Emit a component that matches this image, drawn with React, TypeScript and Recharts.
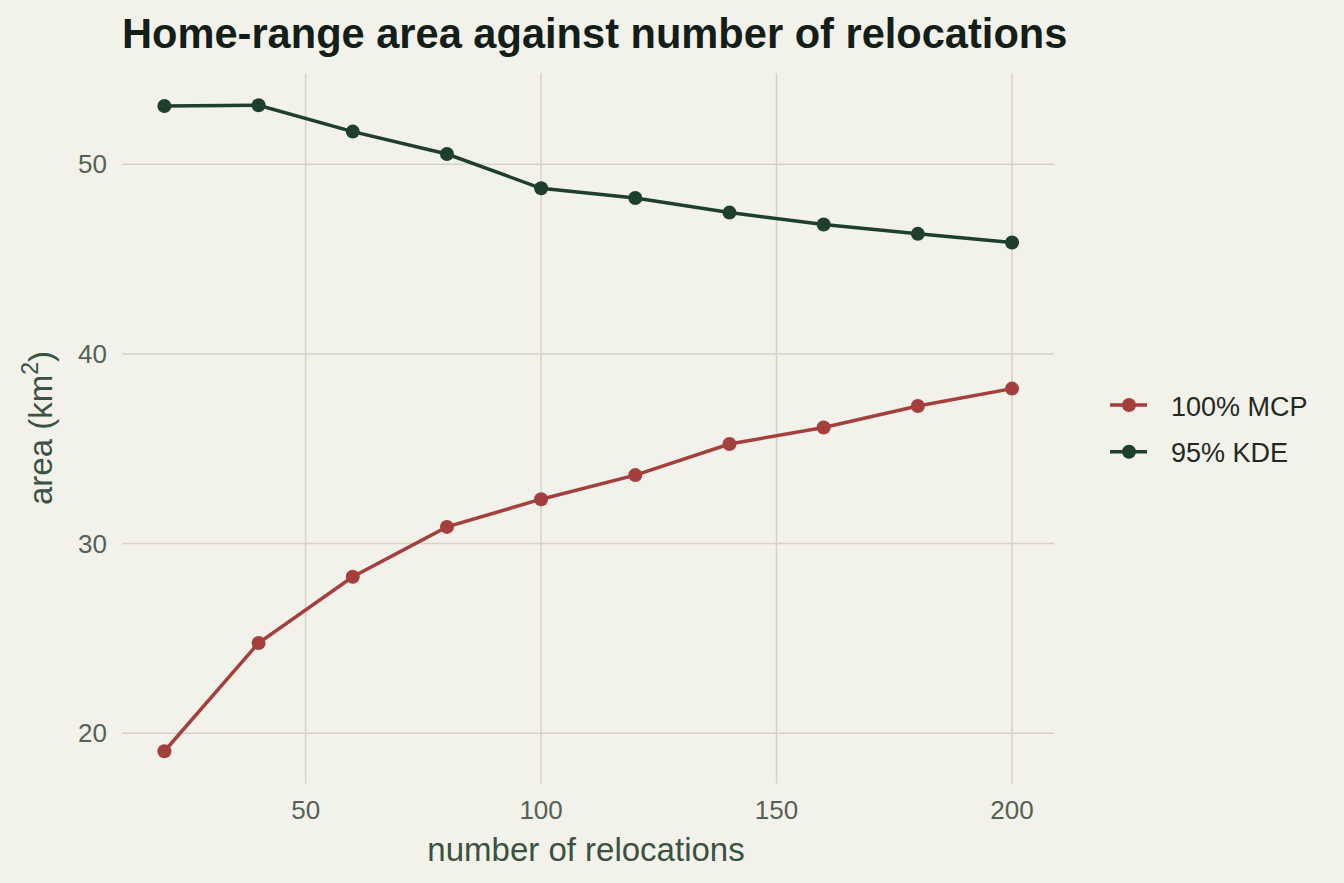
import React from 'react';
import { LineChart, Line, XAxis, YAxis, CartesianGrid, Legend, Label } from 'recharts';

// Sample sizes (number of relocations) and the home-range estimates at each size
const relocations = [20, 40, 60, 80, 100, 120, 140, 160, 180, 200];
const mcp100 = [19.05, 24.76, 28.25, 30.88, 32.34, 33.61, 35.25, 36.12, 37.25, 38.17];
const kde95 = [53.07, 53.11, 51.72, 50.54, 48.73, 48.22, 47.45, 46.82, 46.33, 45.87];

const xTicks = [50, 100, 150, 200];
const yTicks = [20, 30, 40, 50];

const seriesNames = ['100% MCP', '95% KDE'];

const data = relocations.map((n, i) => ({ n, mcp: mcp100[i], kde: kde95[i] }));

const BG = '#F2F1EA';
const GRID = '#D5D4C3';
const RED = '#A43F3E';
const GREEN = '#1D3F2B';
const FONT = '"Liberation Sans", Arial, Helvetica, sans-serif';

const W = 1344;
const H = 883;

const legendItems = [
  { name: seriesNames[0], color: RED },
  { name: seriesNames[1], color: GREEN },
];

function LegendBox() {
  return (
    <svg width={220} height={100} style={{ display: 'block', overflow: 'visible' }}>
      {legendItems.map((it, i) => {
        const cy = 25 + i * 46.7;
        return (
          <g key={it.name}>
            <line x1={10} x2={47} y1={cy} y2={cy} stroke={it.color} strokeWidth={3.5} />
            <circle cx={29} cy={cy} r={7} fill={it.color} />
            <text x={71} y={cy + 10.5} fontSize={27} fontFamily={FONT} fill="#1F2A22">
              {it.name}
            </text>
          </g>
        );
      })}
    </svg>
  );
}

function YTitle() {
  return (
    <text
      x={52}
      y={428}
      transform="rotate(-90, 52, 428)"
      textAnchor="middle"
      fontFamily={FONT}
      fontSize={33}
      fill="#3A5242"
    >
      <tspan>area (km</tspan>
      <tspan fontSize={23} dy={-14}>2</tspan>
      <tspan dy={14}>)</tspan>
    </text>
  );
}

function XTitle() {
  return (
    <text x={586} y={861} textAnchor="middle" fontFamily={FONT} fontSize={33} fill="#3A5242">
      number of relocations
    </text>
  );
}

export default function App() {
  return (
    <div
      style={{
        position: 'absolute',
        left: 0,
        top: 0,
        width: W,
        height: H,
        background: BG,
        fontFamily: FONT,
      }}
    >
      <div
        style={{
          position: 'absolute',
          left: 122,
          top: 13,
          fontSize: 41.6,
          lineHeight: '41px',
          fontWeight: 700,
          color: '#141E18',
          whiteSpace: 'nowrap',
        }}
      >
        Home-range area against number of relocations
      </div>
      <LineChart
        width={W}
        height={H}
        data={data}
        margin={{ top: 73, right: 69.6, bottom: 0, left: 0 }}
        style={{ position: 'absolute', left: 0, top: 0 }}
      >
        <CartesianGrid
          stroke={GRID}
          strokeWidth={1.5}
          horizontalValues={yTicks}
          verticalValues={xTicks}
        />
        <XAxis
          dataKey="n"
          type="number"
          domain={[11, 209]}
          ticks={xTicks}
          allowDataOverflow
          axisLine={false}
          tickLine={false}
          tickSize={0}
          tickMargin={17}
          height={99.5}
          tick={{ fontSize: 26, fill: '#556155', fontFamily: FONT }}
        >
          <Label content={<XTitle />} />
        </XAxis>
        <YAxis
          type="number"
          domain={[17.35, 54.81]}
          ticks={yTicks}
          allowDataOverflow
          axisLine={false}
          tickLine={false}
          tickSize={0}
          tickMargin={15}
          width={122}
          tick={{ fontSize: 26, fill: '#556155', fontFamily: FONT }}
        >
          <Label content={<YTitle />} />
        </YAxis>
        <Legend
          layout="vertical"
          align="right"
          verticalAlign="middle"
          width={220}
          height={100}
          wrapperStyle={{ left: 1100, top: 380, right: 'auto', bottom: 'auto', width: 220, height: 100 }}
          content={<LegendBox />}
        />
        <Line
          name={seriesNames[0]}
          dataKey="mcp"
          stroke={RED}
          strokeWidth={3.5}
          dot={{ r: 7, fill: RED, stroke: RED, strokeWidth: 0 }}
          activeDot={false}
          isAnimationActive={false}
        />
        <Line
          name={seriesNames[1]}
          dataKey="kde"
          stroke={GREEN}
          strokeWidth={3.5}
          dot={{ r: 7, fill: GREEN, stroke: GREEN, strokeWidth: 0 }}
          activeDot={false}
          isAnimationActive={false}
        />
      </LineChart>
    </div>
  );
}
